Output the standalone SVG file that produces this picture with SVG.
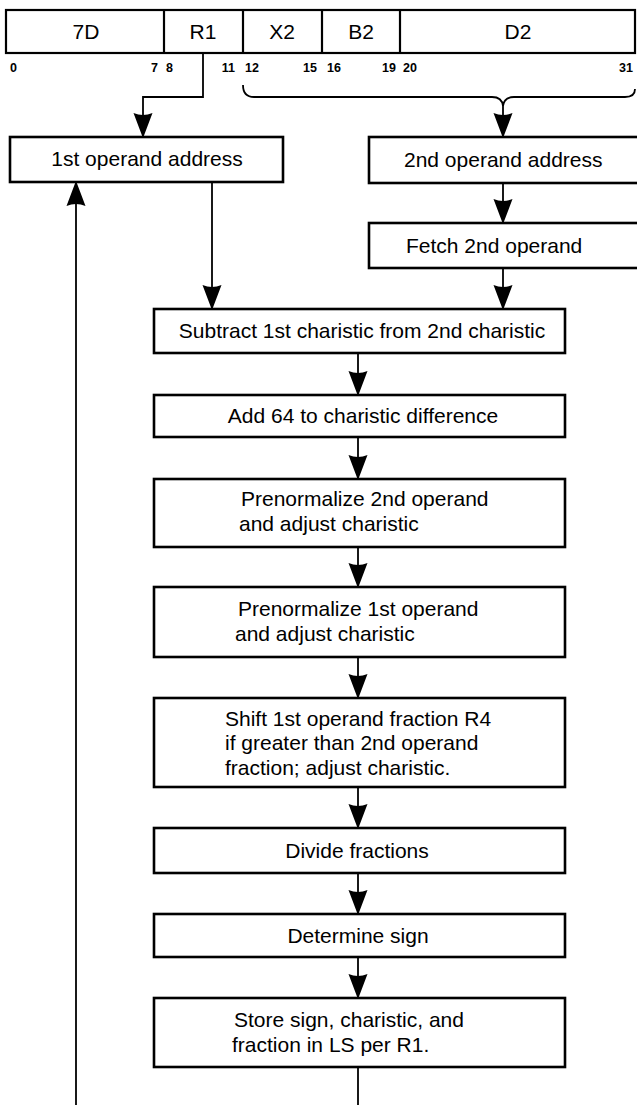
<svg xmlns="http://www.w3.org/2000/svg" width="637" height="1105" viewBox="0 0 637 1105">
  <style>
    .box { fill: #fff; stroke: #000; stroke-width: 2.6; }
    .reg { fill: #fff; stroke: #000; stroke-width: 2.2; }
    .wire { fill: none; stroke: #000; stroke-width: 1.8; }
    .lbl { font-family: "Liberation Sans", Arial, sans-serif; font-size: 21px; fill: #000; }
    .mid { text-anchor: middle; }
    .bit { font-family: "Liberation Sans", Arial, sans-serif; font-size: 12.5px; font-weight: bold; fill: #000; }
    .end { text-anchor: end; }
  </style>
  <defs>
    <marker id="ah" markerUnits="userSpaceOnUse" markerWidth="26" markerHeight="22" viewBox="-25 -11 26 22" refX="0" refY="0" orient="auto">
      <path d="M-24,-9.5 Q-20,0 -24,9.5 L-2,1.2 L0,0 L-2,-1.2 Z" fill="#000"/>
    </marker>
  </defs>
  <rect width="637" height="1105" fill="#fff"/>

  <!-- instruction format register -->
  <g id="register">
    <rect class="reg" x="6" y="10" width="629" height="43"/>
    <line class="reg" x1="164" y1="10" x2="164" y2="53"/>
    <line class="reg" x1="243" y1="10" x2="243" y2="53"/>
    <line class="reg" x1="322" y1="10" x2="322" y2="53"/>
    <line class="reg" x1="400" y1="10" x2="400" y2="53"/>
    <text class="lbl mid" x="86" y="39">7D</text>
    <text class="lbl mid" x="203" y="39">R1</text>
    <text class="lbl mid" x="282" y="39">X2</text>
    <text class="lbl mid" x="361" y="39">B2</text>
    <text class="lbl mid" x="518" y="39">D2</text>
    <text class="bit" x="10" y="72">0</text>
    <text class="bit end" x="158" y="72">7</text>
    <text class="bit" x="166" y="72">8</text>
    <text class="bit end" x="235" y="72">11</text>
    <text class="bit" x="245" y="72">12</text>
    <text class="bit end" x="317" y="72">15</text>
    <text class="bit" x="327" y="72">16</text>
    <text class="bit end" x="396" y="72">19</text>
    <text class="bit" x="403" y="72">20</text>
    <text class="bit end" x="633" y="72">31</text>
  </g>

  <!-- connectors -->
  <g id="connectors">
    <polyline class="wire" points="203,53 203,97 143,97 143,137" marker-end="url(#ah)"/>
    <path class="wire" stroke-width="2.4" d="M243,85 Q243,97 254,97 L492,97 Q502,97 503,106 Q504,97 514,97 L625,97 Q635,97 635,89"/>
    <line class="wire" x1="503" y1="105" x2="503" y2="137" marker-end="url(#ah)"/>
    <line class="wire" x1="503" y1="183" x2="503" y2="223" marker-end="url(#ah)"/>
    <line class="wire" x1="503" y1="268" x2="503" y2="309" marker-end="url(#ah)"/>
    <line class="wire" x1="212" y1="182" x2="212" y2="309" marker-end="url(#ah)"/>
    <line class="wire" x1="76" y1="1105" x2="76" y2="182" marker-end="url(#ah)"/>
    <line class="wire" x1="358" y1="353" x2="358" y2="395" marker-end="url(#ah)"/>
    <line class="wire" x1="358" y1="437" x2="358" y2="479" marker-end="url(#ah)"/>
    <line class="wire" x1="358" y1="547" x2="358" y2="587" marker-end="url(#ah)"/>
    <line class="wire" x1="358" y1="657" x2="358" y2="698" marker-end="url(#ah)"/>
    <line class="wire" x1="358" y1="787" x2="358" y2="828" marker-end="url(#ah)"/>
    <line class="wire" x1="358" y1="873" x2="358" y2="914" marker-end="url(#ah)"/>
    <line class="wire" x1="358" y1="957" x2="358" y2="998" marker-end="url(#ah)"/>
    <line class="wire" x1="358" y1="1067" x2="358" y2="1105"/>
  </g>

  <g id="op1-address">
    <rect class="box" x="10" y="137" width="273" height="45"/>
    <text class="lbl mid" x="147" y="166">1st operand address</text>
  </g>
  <g id="op2-address">
    <rect class="box" x="369" y="137" width="280" height="46"/>
    <text class="lbl" x="404" y="167">2nd operand address</text>
  </g>
  <g id="fetch-op2">
    <rect class="box" x="369" y="223" width="280" height="45"/>
    <text class="lbl" x="406" y="253">Fetch 2nd operand</text>
  </g>
  <g id="subtract">
    <rect class="box" x="154" y="309" width="411" height="44"/>
    <text class="lbl mid" x="362" y="338">Subtract 1st charistic from 2nd charistic</text>
  </g>
  <g id="add64">
    <rect class="box" x="154" y="395" width="411" height="42"/>
    <text class="lbl mid" x="363" y="423">Add 64 to charistic difference</text>
  </g>
  <g id="prenorm-op2">
    <rect class="box" x="154" y="479" width="411" height="68"/>
    <text class="lbl" x="241" y="506">Prenormalize 2nd operand</text>
    <text class="lbl" x="239" y="531">and adjust charistic</text>
  </g>
  <g id="prenorm-op1">
    <rect class="box" x="154" y="587" width="411" height="70"/>
    <text class="lbl" x="238" y="616">Prenormalize 1st operand</text>
    <text class="lbl" x="235" y="641">and adjust charistic</text>
  </g>
  <g id="shift-op1">
    <rect class="box" x="154" y="698" width="411" height="89"/>
    <text class="lbl" x="225" y="726">Shift 1st operand fraction R4</text>
    <text class="lbl" x="225" y="750">if greater than 2nd operand</text>
    <text class="lbl" x="225" y="775">fraction; adjust charistic.</text>
  </g>
  <g id="divide">
    <rect class="box" x="154" y="828" width="411" height="45"/>
    <text class="lbl mid" x="357" y="858">Divide fractions</text>
  </g>
  <g id="sign">
    <rect class="box" x="154" y="914" width="411" height="43"/>
    <text class="lbl mid" x="358" y="943">Determine sign</text>
  </g>
  <g id="store">
    <rect class="box" x="154" y="998" width="411" height="69"/>
    <text class="lbl" x="234" y="1027">Store sign, charistic, and</text>
    <text class="lbl" x="232" y="1052">fraction in LS per R1.</text>
  </g>
</svg>
